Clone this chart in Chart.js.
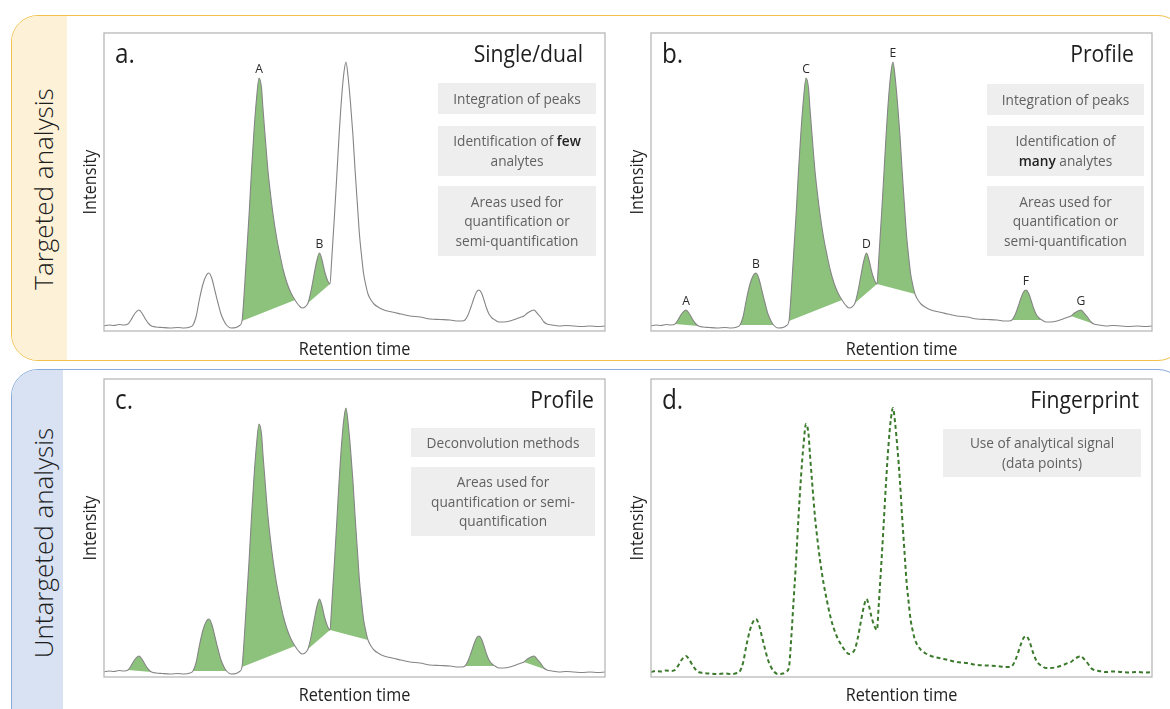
<!DOCTYPE html>
<html lang="en">
<head>
<meta charset="utf-8">
<title>Chromatographic data analysis approaches</title>
<script src="https://cdn.jsdelivr.net/npm/chart.js@4.4.1/dist/chart.umd.min.js"></script>
<style>
  html, body { margin: 0; padding: 0; background: #fff; }
  #page { position: relative; width: 1170px; height: 709px; overflow: hidden; font-family: "Open Sans", sans-serif; }
  .group { position: absolute; left: 11px; width: 1174px; box-sizing: border-box; border-radius: 27px; overflow: hidden; }
  #targeted { top: 15px; height: 346px; border: 1.5px solid #f3c14c; }
  #untargeted { top: 369px; height: 380px; border: 1.5px solid #8aabd9; }
  .band { position: absolute; left: 0; top: 0; bottom: 0; }
  #targeted .band { width: 54.5px; background: #fdf2d8; }
  #untargeted .band { width: 50.5px; background: #d8e2f3; }
  .rowlabel { position: absolute; font-size: 26px; font-weight: 300; color: #1d1d1d; white-space: nowrap; line-height: 1;
              transform: translate(-50%, -50%) rotate(-90deg); }
  canvas { position: absolute; }
</style>
</head>
<body>
<div id="page">
  <div class="group" id="targeted"><div class="band"></div></div>
  <div class="group" id="untargeted"><div class="band"></div></div>
  <div class="rowlabel" style="left:43px; top:189px;">Targeted analysis</div>
  <div class="rowlabel" style="left:43px; top:543px;">Untargeted analysis</div>
  <canvas id="panelA"></canvas>
  <canvas id="panelB"></canvas>
  <canvas id="panelC"></canvas>
  <canvas id="panelD"></canvas>
</div>
<script>
// Sample chromatogram: retention time (relative units) and detector response
const retentionTime = [0,5,10,15,20,24,27,30.5,35,38.5,
  42,45,47.5,52,58,66,74,80,86,89,
  92,95.5,99,102.5,105,108,111,114,117,120,
  122.5,127,132,135.5,138,140,142.5,145,147.5,150,
  152.5,155,157.5,159,161.5,164,166.5,169,172.5,176,
  179.5,183,187,191,194.5,198,201,204,207,210,
  213,215.5,218,220.5,223,226,227.5,229,230.5,232.5,
  235,237.5,240,242,244,246.5,249,251,253.5,255.5,
  257.5,259.5,262,264,267,270,274,280,288,297,
  306,316,326,336,346,354,358,361,364,367,
  370,372.5,375,377.5,380,382.5,385,388,391,395,
  400,406,412,417,420,423.5,427,430,433,436.5,
  440,443,448,455,462,470,478,486,494,501];
const intensity = [5,6,5.5,6.5,6,7,11,17,21,17,
  11,7,5,4,3.5,3,3.5,3,4,6,
  14,32,47,56,58,52,40,28,17,10,
  6,3,3.5,5.5,10,35,75,115,160,200,
  232,253,243,222,190,160,137,117,94,76,
  60,48,38,31,26,23,24,28,40,56,
  71,78,71,60,52,47,68,92,116,150,
  194,232,259,269,255,228,195,162,125,96,
  76,58,45,37,31,27,24,21,19,17,
  15,14,12,11.5,11,10,10,11,16,24,
  33,39,41,38,31,23,17,13,11,9,
  9,10,12,14,15,18,20,21,18,14,
  9,7,6,5,5.5,5,4.5,5,4.5,5];

// Integration windows [start, end] of the shaded peak areas
const windowsSingle = [[138, 191], [204, 226]];
const windowsProfile = [[24, 47.5], [89, 122.5], [138, 191], [204, 226], [226, 264], [361, 391], [420, 443]];

// Named peaks and their apex retention times
const namesSingle = ['A', 'B'];
const apexSingle = [155, 215.5];
const namesProfile = ['A', 'B', 'C', 'D', 'E', 'F', 'G'];
const apexProfile = [35, 105, 155, 215.5, 242, 375, 430];

const FRAME_W = 501, FRAME_H = 298;
const PAD = { left: 40, top: 6, right: 4, bottom: 40 };
const SQUEEZE = 0.9;
const FONT = '"Open Sans", "Noto Sans", sans-serif';
const INK = '#1e1e1e';
const FILL = '#8dc27c';

const chromatogram = retentionTime.map((t, i) => ({ x: t, y: intensity[i] }));

function put(ctx, str, x, y, size, color, align, vertical, weight) {
  ctx.save();
  ctx.translate(x, y);
  if (vertical) ctx.rotate(-Math.PI / 2);
  ctx.scale(SQUEEZE, 1);
  ctx.font = (weight || 400) + ' ' + size + 'px ' + FONT;
  ctx.fillStyle = color;
  ctx.textAlign = align;
  ctx.textBaseline = vertical ? 'middle' : 'alphabetic';
  ctx.fillText(str, 0, 0);
  ctx.restore();
}

// centred line where **word** is set in bold
function richLine(ctx, str, cx, baseline, size, color) {
  const parts = str.split('**');
  ctx.save();
  ctx.translate(cx, baseline);
  ctx.scale(SQUEEZE, 1);
  ctx.textAlign = 'left';
  ctx.textBaseline = 'alphabetic';
  const fonts = parts.map((_, i) => (i % 2 ? '600 ' : '400 ') + size + 'px ' + FONT);
  const widths = parts.map((p, i) => { ctx.font = fonts[i]; return ctx.measureText(p).width; });
  let x = -widths.reduce((a, b) => a + b, 0) / 2;
  parts.forEach((p, i) => {
    ctx.font = fonts[i];
    ctx.fillStyle = i % 2 ? '#222' : color;
    ctx.fillText(p, x, 0);
    x += widths[i];
  });
  ctx.restore();
}

function panelDecor(cfg) {
  return {
    id: 'panelDecor',
    afterDraw(chart) {
      const { ctx, chartArea: a } = chart;
      ctx.save();
      ctx.strokeStyle = '#b8b8b8';
      ctx.lineWidth = 1.3;
      ctx.strokeRect(a.left, a.top, a.right - a.left, a.bottom - a.top);

      put(ctx, cfg.letter, a.left + 11, a.top + 30, 27, INK, 'left');
      put(ctx, cfg.title, a.right - cfg.titleInset, a.top + 29, 23.5, INK, 'right');

      cfg.boxes.forEach(b => {
        ctx.fillStyle = '#eeeeee';
        ctx.fillRect(a.left + b.x, a.top + b.y, b.w, b.h);
        const n = b.lines.length, lh = 19.5;
        const cy = a.top + b.y + b.h / 2;
        b.lines.forEach((ln, i) => {
          richLine(ctx, ln, a.left + b.x + b.w / 2, cy + (i - (n - 1) / 2) * lh + 5, 15.2, '#616161');
        });
      });

      put(ctx, 'Intensity', a.left - 13.5, (a.top + a.bottom) / 2, 18, '#222', 'center', true);
      put(ctx, 'Retention time', (a.left + a.right) / 2, a.bottom + 24, 18, '#222', 'center');

      const xs = chart.scales.x, ys = chart.scales.y;
      cfg.names.forEach((name, k) => {
        const t = cfg.apex[k];
        const idx = retentionTime.indexOf(t);
        put(ctx, name, xs.getPixelForValue(t), ys.getPixelForValue(intensity[idx]) - 5, 13.5, '#2a2a2a', 'center');
      });
      ctx.restore();
    }
  };
}

function buildPanel(id, left, top, cfg) {
  const canvas = document.getElementById(id);
  canvas.width = PAD.left + FRAME_W + PAD.right;
  canvas.height = PAD.top + FRAME_H + PAD.bottom;
  canvas.style.left = (left - PAD.left) + 'px';
  canvas.style.top = (top - PAD.top) + 'px';

  const datasets = [{
    data: chromatogram,
    borderColor: cfg.lineColor,
    borderWidth: cfg.lineWidth,
    borderDash: cfg.dash || [],
    fill: false,
    pointRadius: 0,
    cubicInterpolationMode: 'monotone',
    order: 1
  }];
  cfg.windows.forEach(w => {
    datasets.push({
      data: chromatogram.filter(p => p.x >= w[0] && p.x <= w[1]),
      borderColor: 'rgba(0,0,0,0)',
      borderWidth: 0,
      backgroundColor: FILL,
      fill: 'shape',
      pointRadius: 0,
      cubicInterpolationMode: 'monotone',
      order: 2
    });
  });

  return new Chart(canvas, {
    type: 'line',
    data: { datasets },
    options: {
      responsive: false,
      animation: false,
      devicePixelRatio: 1,
      events: [],
      layout: { padding: PAD },
      scales: {
        x: { type: 'linear', min: 0, max: FRAME_W, display: false },
        y: { type: 'linear', min: 0, max: FRAME_H, display: false }
      },
      plugins: { legend: { display: false }, tooltip: { enabled: false } }
    },
    plugins: [panelDecor(cfg)]
  });
}

buildPanel('panelA', 104, 33, {
  letter: 'a.', title: 'Single/dual', titleInset: 22,
  lineColor: '#858585', lineWidth: 1.1,
  windows: windowsSingle, names: namesSingle, apex: apexSingle,
  boxes: [
    { x: 334, y: 50, w: 158, h: 31, lines: ['Integration of peaks'] },
    { x: 334, y: 93, w: 158, h: 50, lines: ['Identification of **few**', 'analytes'] },
    { x: 334, y: 153, w: 158, h: 70, lines: ['Areas used for', 'quantification or', 'semi-quantification'] }
  ]
});

buildPanel('panelB', 651, 33, {
  letter: 'b.', title: 'Profile', titleInset: 18,
  lineColor: '#858585', lineWidth: 1.1,
  windows: windowsProfile, names: namesProfile, apex: apexProfile,
  boxes: [
    { x: 336, y: 51, w: 157, h: 31, lines: ['Integration of peaks'] },
    { x: 336, y: 93, w: 157, h: 50, lines: ['Identification of', '**many** analytes'] },
    { x: 336, y: 153, w: 157, h: 70, lines: ['Areas used for', 'quantification or', 'semi-quantification'] }
  ]
});

buildPanel('panelC', 104, 379, {
  letter: 'c.', title: 'Profile', titleInset: 11,
  lineColor: '#858585', lineWidth: 1.1,
  windows: windowsProfile, names: [], apex: [],
  boxes: [
    { x: 307, y: 49, w: 184, h: 29, lines: ['Deconvolution methods'] },
    { x: 307, y: 88, w: 184, h: 69, lines: ['Areas used for', 'quantification or semi-', 'quantification'] }
  ]
});

buildPanel('panelD', 651, 379, {
  letter: 'd.', title: 'Fingerprint', titleInset: 13,
  lineColor: '#3b7a2c', lineWidth: 2, dash: [4, 3],
  windows: [], names: [], apex: [],
  boxes: [
    { x: 292, y: 50, w: 198, h: 48, lines: ['Use of analytical signal', '(data points)'] }
  ]
});
</script>
</body>
</html>
